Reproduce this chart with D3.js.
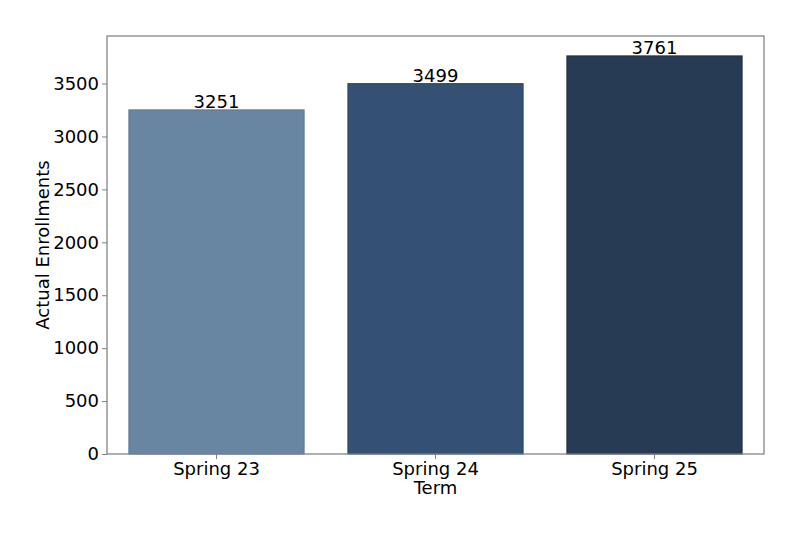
<!DOCTYPE html>
<html lang="en">
<head>
<meta charset="UTF-8">
<title>Actual Enrollments by Term</title>
<script src="https://d3js.org/d3.v7.min.js"></script>
<style>
    body { margin: 0; background: #fff; font-family: "DejaVu Sans", sans-serif; }
    svg { display: block; }
    .tick text { font-size: 18px; fill: #000; }
</style>
</head>
<body>
<div id="chart"></div>
<script>
    const terms = ["Spring 23", "Spring 24", "Spring 25"];
    const enrollments = [3251, 3499, 3761];
    const yTicks = [0, 500, 1000, 1500, 2000, 2500, 3000, 3500];
    const barColors = ["#6886a2", "#345073", "#283b54"];
    const edgeColors = ["#5a7894", "#2a4466", "#1c2d44"];

    const width = 800, height = 533;
    const margin = { top: 36, right: 36, bottom: 79, left: 107 };
    const innerW = width - margin.left - margin.right;
    const innerH = height - margin.top - margin.bottom;

    const svg = d3.select("#chart").append("svg")
        .attr("width", width)
        .attr("height", height);

    const g = svg.append("g")
        .attr("transform", `translate(${margin.left},${margin.top})`);

    // bands like seaborn: categories at 0..n-1, axis from -0.5 to n-0.5, bar width 0.8
    const x = d3.scaleBand()
        .domain(terms)
        .range([0, innerW])
        .paddingInner(0.2)
        .paddingOuter(0.1);

    const y = d3.scaleLinear()
        .domain([0, d3.max(enrollments) * 1.05])
        .range([innerH, 0]);

    g.selectAll("rect.bar")
        .data(enrollments)
        .enter()
        .append("rect")
        .attr("class", "bar")
        .attr("x", (_, i) => x(terms[i]))
        .attr("y", d => y(d))
        .attr("width", x.bandwidth())
        .attr("height", d => innerH - y(d))
        .attr("fill", (_, i) => barColors[i])
        .attr("stroke", (_, i) => edgeColors[i])
        .attr("stroke-width", 1);

    g.selectAll("text.val")
        .data(enrollments)
        .enter()
        .append("text")
        .attr("class", "val")
        .attr("x", (_, i) => x(terms[i]) + x.bandwidth() / 2)
        .attr("y", d => y(d) - 2)
        .attr("text-anchor", "middle")
        .attr("font-size", "18px")
        .attr("fill", "#000")
        .text(d => d);

    // frame
    g.append("rect")
        .attr("width", innerW)
        .attr("height", innerH)
        .attr("fill", "none")
        .attr("stroke", "#808080")
        .attr("stroke-width", 1.25);

    const xAxis = g.append("g")
        .attr("transform", `translate(0,${innerH})`)
        .call(d3.axisBottom(x).tickSize(5).tickPadding(3));
    const yAxis = g.append("g")
        .call(d3.axisLeft(y).tickValues(yTicks).tickFormat(d3.format("d")).tickSize(5).tickPadding(3));

    [xAxis, yAxis].forEach(a => {
        a.select(".domain").remove();
        a.selectAll(".tick line").attr("stroke", "#808080").attr("stroke-width", 1);
        a.selectAll(".tick text").attr("font-family", "DejaVu Sans, sans-serif");
    });

    svg.append("text")
        .attr("x", margin.left + innerW / 2)
        .attr("y", 494)
        .attr("text-anchor", "middle")
        .attr("font-size", "18px")
        .text("Term");

    svg.append("text")
        .attr("transform", `translate(49,${margin.top + innerH / 2}) rotate(-90)`)
        .attr("text-anchor", "middle")
        .attr("font-size", "18px")
        .text("Actual Enrollments");
</script>
</body>
</html>
